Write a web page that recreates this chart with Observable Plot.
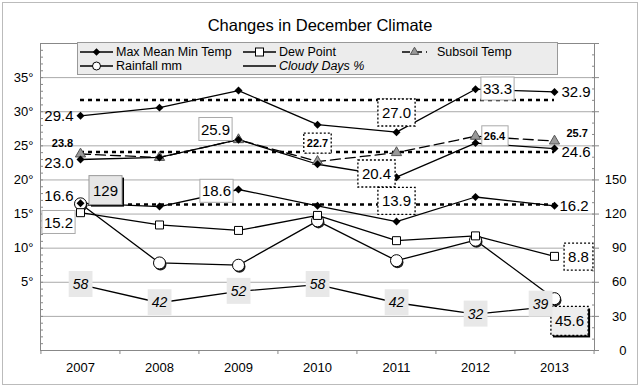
<!DOCTYPE html>
<html><head><meta charset="utf-8">
<script src="https://cdn.jsdelivr.net/npm/d3@7"></script>
<script src="https://cdn.jsdelivr.net/npm/@observablehq/plot@0.6"></script>
<style>
body{margin:0;background:#fff;font-family:"Liberation Sans",Arial,sans-serif;}
#wrap{position:relative;width:640px;height:386px;overflow:hidden;background:#fff;}
#border{position:absolute;left:2px;top:2px;width:636px;height:383px;border:1px solid #bbb;box-sizing:border-box;pointer-events:none}
#title{height:34px;box-sizing:border-box;padding-top:16px;line-height:18px;font-size:16.5px;text-align:center;color:#000}
#legend{position:absolute;left:77px;top:42px;font-family:"Liberation Sans",Arial,sans-serif;}
#chart svg{display:block}
</style></head><body>
<div id="wrap"><div id="title">Changes in December Climate</div><div id="chart"></div><svg id="legend" width="481" height="33"></svg><div id="border"></div></div>
<script>
// ---- data ----
const years = [2007, 2008, 2009, 2010, 2011, 2012, 2013];
const maxTemp = [29.4, 30.6, 33.1, 28.1, 27.0, 33.3, 32.9];
const meanTemp = [23.0, 23.3, 25.9, 22.3, 20.4, 25.4, 24.6];
const minTemp = [16.6, 16.1, 18.6, 16.2, 13.9, 17.5, 16.2];
const dewPoint = [15.2, 13.4, 12.6, 14.8, 11.1, 11.8, 8.8];
const subsoilTemp = [23.8, 23.3, 25.9, 22.7, 24.0, 26.4, 25.7];
const rainfall = [129, 77, 75, 114, 79, 97, 45.6];
const cloudyDays = [58, 42, 52, 58, 42, 32, 39];
const averageLines = [31.7, 24.1, 16.4];
const leftTicks = [5, 10, 15, 20, 25, 30, 35];
const rightTicks = [0, 30, 60, 90, 120, 150];
const seriesNames = ["Max Mean Min Temp", "Dew Point", "Subsoil Temp", "Rainfall mm", "Cloudy Days %"];

// right axis (0–270) shares the frame with left axis (−5°–40°)
const toLeft = v => v / 6 - 5;
const rows = (vals, series, right = false) => years.map((year, i) => ({
  year, series, value: vals[i], y: right ? toLeft(vals[i]) : vals[i],
  label: right ? String(vals[i]) : vals[i].toFixed(1)
}));
const maxRows = rows(maxTemp, "max"), meanRows = rows(meanTemp, "mean"), minRows = rows(minTemp, "min");
const dewRows = rows(dewPoint, "dew"), subRows = rows(subsoilTemp, "subsoil");
const rainRows = rows(rainfall, "rain", true), cloudRows = rows(cloudyDays, "cloud", true);
const allRows = [...maxRows, ...meanRows, ...minRows, ...dewRows, ...subRows, ...rainRows, ...cloudRows];

// ---- label layout (offsets in px from the point) ----
const labelLayout = [
  {series: "max", year: 2007, style: "plain", anchor: "end", dx: -7, dy: 0},
  {series: "max", year: 2011, style: "dot", dx: 0, dy: -19},
  {series: "max", year: 2012, style: "box", dx: 22, dy: 0},
  {series: "max", year: 2013, style: "plain", anchor: "start", dx: 7, dy: 0},
  {series: "mean", year: 2007, style: "plain", anchor: "end", dx: -7, dy: 4},
  {series: "mean", year: 2009, style: "box", dx: -23, dy: -10},
  {series: "mean", year: 2011, style: "dot", dx: -20, dy: -3},
  {series: "mean", year: 2013, style: "plain", anchor: "start", dx: 7, dy: 4},
  {series: "min", year: 2007, style: "plain", anchor: "end", dx: -7, dy: -7},
  {series: "min", year: 2009, style: "box", dx: -22, dy: 2},
  {series: "min", year: 2011, style: "dot", dx: 0, dy: -20},
  {series: "min", year: 2013, style: "plain", anchor: "start", dx: 5, dy: 0},
  {series: "dew", year: 2007, style: "box", dx: -22, dy: 10},
  {series: "dew", year: 2013, style: "dot", dx: 24, dy: 1},
  {series: "subsoil", year: 2007, style: "bold", dx: -18, dy: -11},
  {series: "subsoil", year: 2010, style: "boldDot", dx: 0, dy: -18},
  {series: "subsoil", year: 2012, style: "boldBox", dx: 19, dy: 0},
  {series: "subsoil", year: 2013, style: "bold", anchor: "start", dx: 12, dy: -8},
  {series: "rain", year: 2007, style: "shadow", dx: 25, dy: -13},
  {series: "rain", year: 2013, style: "dotShadow", dx: 15, dy: 23},
  ...years.map((year, i) => ({series: "cloud", year, style: "cloud", dx: i === years.length - 1 ? -14 : 0, dy: i === years.length - 1 ? -2 : 0}))
];
const textStyles = {
  plain: {fontSize: 15}, box: {fontSize: 15}, dot: {fontSize: 15},
  bold: {fontSize: 11, fontWeight: "bold"}, boldDot: {fontSize: 11, fontWeight: "bold"}, boldBox: {fontSize: 11, fontWeight: "bold"},
  shadow: {fontSize: 15}, dotShadow: {fontSize: 15}, cloud: {fontSize: 14, fontStyle: "italic"}
};
const boxStyles = {
  box: {fill: "#fff", stroke: "#aaa", px: 2, py: 3},
  dot: {fill: "#fff", stroke: "#000", dash: "2,2", px: 4, py: 5},
  boldBox: {fill: "#fff", stroke: "#aaa", px: 2, py: 4},
  boldDot: {fill: "#fff", stroke: "#000", dash: "2,2", px: 3, py: 4},
  shadow: {fill: "#e6e6e6", stroke: "#999", px: 4, py: 6, shadow: true},
  dotShadow: {fill: "#eee", stroke: "#000", dash: "2,2", px: 4, py: 6, shadow: true},
  cloud: {fill: "#e8e8e8", stroke: "none", px: 4, py: 5}
};

const W = 640, ML = 40, MR = 46;
const halfStep = (W - ML - MR) / years.length / 2;
const line = (data, extra = {}) => Plot.line(data, {x: "year", y: "y", stroke: "#000", strokeWidth: 1.3, ...extra});

const labelMarks = labelLayout.map(s => {
  const row = allRows.find(r => r.series === s.series && r.year === s.year);
  return Plot.text([row], {x: "year", y: "y", text: "label", dx: s.dx, dy: s.dy,
    textAnchor: s.anchor || "middle", fill: "#000", ariaDescription: "lbl-" + s.style, ...textStyles[s.style]});
});

const plot = Plot.plot({
  width: W, height: 352, marginTop: 9, marginBottom: 36, marginLeft: ML, marginRight: MR,
  style: {fontFamily: "Liberation Sans, Arial, sans-serif", fontSize: "13px", color: "#000", background: "transparent"},
  x: {type: "point", domain: years, padding: 0.5, label: null},
  y: {domain: [-5, 40], label: null},
  marks: [
    Plot.gridY([0, 5, 10, 15, 20, 25, 30, 35], {stroke: "#aaa", strokeOpacity: 1}),
    Plot.frame({stroke: "#888"}),
    Plot.axisY(leftTicks, {tickSize: 0, tickPadding: 7, tickFormat: d => d + "°", fontSize: 13, label: null}),
    Plot.axisY(d3.range(-5, 41), {tickSize: 3, dx: 3, tickFormat: () => "", stroke: "#888", label: null}),
    Plot.axisY(d3.range(0, 271, 10).map(toLeft), {anchor: "right", tickSize: 3, dx: -3, tickFormat: () => "", stroke: "#888", label: null}),
    Plot.axisY(d3.range(0, 271, 30).map(toLeft), {anchor: "right", tickSize: 4, tickFormat: () => "", stroke: "#888", label: null}),
    Plot.axisY(rightTicks.map(toLeft), {anchor: "right", tickSize: 0, tickPadding: 32, textAnchor: "end",
      tickFormat: d => String(Math.round((d + 5) * 6)), fontSize: 13, label: null}),
    Plot.axisX({tickSize: 0, tickPadding: 12, fontSize: 13, tickFormat: d => String(d), label: null}),
    Plot.axisX(years, {tickSize: 4, dx: -halfStep, tickFormat: () => "", stroke: "#888", label: null}),
    Plot.axisX([years[years.length - 1]], {tickSize: 4, dx: halfStep, tickFormat: () => "", stroke: "#888", label: null}),
    Plot.ruleY(averageLines, {y: d => d, x1: () => years[0], x2: () => years[years.length - 1],
      stroke: "#000", strokeWidth: 2.5, strokeDasharray: "4,4"}),
    line(cloudRows),
    line(rainRows),
    line(dewRows),
    line(minRows), line(meanRows), line(maxRows),
    line(subRows, {strokeDasharray: "10,5"}),
    Plot.dot(rainRows, {x: "year", y: "y", r: 6, fill: "#222", dx: 1, dy: 1.5}),
    Plot.dot(rainRows, {x: "year", y: "y", r: 6, fill: "#fff", stroke: "#000", strokeWidth: 1}),
    Plot.dot(dewRows, {x: "year", y: "y", symbol: "square", r: 4.5, fill: "#fff", stroke: "#000", strokeWidth: 1}),
    Plot.dot(subRows, {x: "year", y: "y", symbol: "triangle", r: 3.8, fill: "#999", stroke: "#555", strokeWidth: 1}),
    Plot.dot([...maxRows, ...meanRows, ...minRows], {x: "year", y: "y", symbol: "diamond2", r: 3.6, fill: "#000"}),
    ...labelMarks
  ]
});
document.getElementById("chart").append(plot);

// boxes behind labels, sized from the rendered text
const NS = "http://www.w3.org/2000/svg";
plot.querySelectorAll('g[aria-description^="lbl-"]').forEach(g => {
  const b = boxStyles[g.getAttribute("aria-description").slice(4)];
  if (!b) return;
  g.querySelectorAll("text").forEach(t => {
    const bb = t.getBBox();
    const tr = t.getAttribute("transform");
    const add = (dx, dy, attrs) => {
      const r = document.createElementNS(NS, "rect");
      r.setAttribute("x", bb.x - b.px + dx); r.setAttribute("y", bb.y - b.py + dy);
      r.setAttribute("width", bb.width + 2 * b.px); r.setAttribute("height", bb.height + 2 * b.py);
      if (tr) r.setAttribute("transform", tr);
      for (const k in attrs) r.setAttribute(k, attrs[k]);
      t.parentNode.insertBefore(r, t);
    };
    if (b.shadow) add(2, 2, {fill: "#000", stroke: "none"});
    const a = {fill: b.fill, stroke: b.stroke, "stroke-width": b.dash ? 1.3 : 1};
    if (b.dash) a["stroke-dasharray"] = b.dash;
    add(0, 0, a);
  });
});

// legend
const lg = d3.select("#legend");
lg.append("rect").attr("x", 0.5).attr("y", 0.5).attr("width", 480).attr("height", 32).attr("fill", "#ececec").attr("stroke", "#999");
const cells = [
  {name: seriesNames[0], x: 3, y: 10, sym: "diamond"},
  {name: seriesNames[1], x: 166, y: 10, sym: "square"},
  {name: seriesNames[2], x: 325, y: 10, sym: "triangle"},
  {name: seriesNames[3], x: 3, y: 24, sym: "circle"},
  {name: seriesNames[4], x: 166, y: 24, sym: "none", italic: true}
];
cells.forEach(c => {
  const w = c.sym === "triangle" ? 25 : 33;
  lg.append("line").attr("x1", c.x).attr("x2", c.x + w).attr("y1", c.y).attr("y2", c.y).attr("stroke", "#000").attr("stroke-width", 1.3)
    .attr("stroke-dasharray", c.sym === "triangle" ? "8,4" : null);
  const cx = c.x + w / 2;
  if (c.sym === "diamond") lg.append("path").attr("d", d3.symbol(d3.symbolDiamond2, 36)()).attr("transform", `translate(${cx},${c.y})`).attr("fill", "#000");
  if (c.sym === "square") lg.append("rect").attr("x", cx - 4).attr("y", c.y - 4).attr("width", 8).attr("height", 8).attr("fill", "#fff").attr("stroke", "#000");
  if (c.sym === "triangle") lg.append("path").attr("d", d3.symbol(d3.symbolTriangle, 30)()).attr("transform", `translate(${cx},${c.y})`).attr("fill", "#999").attr("stroke", "#555");
  if (c.sym === "circle") lg.append("circle").attr("cx", cx).attr("cy", c.y).attr("r", 4).attr("fill", "#fff").attr("stroke", "#000");
  lg.append("text").attr("x", c.x + w + (c.sym === "triangle" ? 10 : 3)).attr("y", c.y).attr("dy", "0.35em")
    .attr("font-size", 12.5).attr("font-style", c.italic ? "italic" : "normal").attr("fill", "#000").text(c.name);
});
</script>
</body></html>
